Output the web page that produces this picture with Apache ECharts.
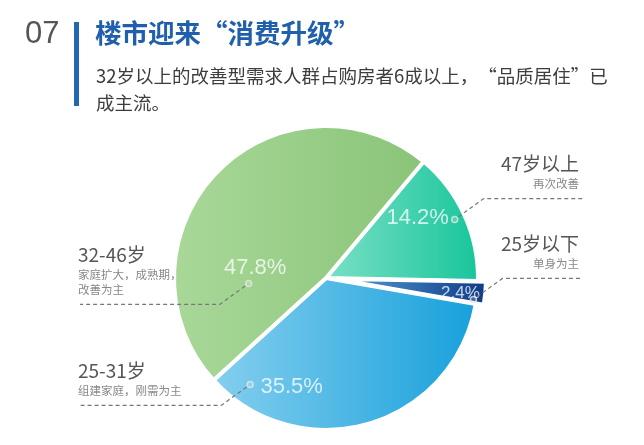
<!DOCTYPE html>
<html><head><meta charset="utf-8">
<script src="https://cdn.jsdelivr.net/npm/echarts@6/dist/echarts.min.js"></script>
<style>html,body{margin:0;padding:0;background:#fff}#c{width:644px;height:445px}</style>
</head><body><div id="c"></div>
<script>
// ---- data ----
const categories = ['47岁以上', '25岁以下', '25-31岁', '32-46岁'];
const descriptions = ['再次改善', '单身为主', '组建家庭，刚需为主', '家庭扩大，成熟期，\n改善为主'];
const values = [14.2, 2.4, 35.5, 47.8];
const titleNumber = '07';
const titleText = '楼市迎来“消费升级”';
const subtitleText = '32岁以上的改善型需求人群占购房者6成以上，“品质居住”已\n成主流。';

// ---- style ----
const gradients = [['#7be0c6', '#17c59b'], ['#5da3de', '#0b3a85'], ['#85cfee', '#17a0db'], ['#a9d899', '#89c478']];
const markerPos = [[0.93, 0.5], [0.98, 0.82], [0.86, 0.904], [0.51, 0.222]]; // [radius frac, frac along slice]
const pctPos = [[0.72, 0.33], [0.89, 0.6], [0.75, 0.764], [0.47, 0.29]];
const pctSize = [22, 17, 22, 22];
const side = [1, 1, -1, -1];
const CENTER = [326, 278], R = 152, START = 50;

const total = values.reduce((a, b) => a + b, 0);
const starts = []; let acc = 0; values.forEach(v => { starts.push(acc); acc += v; });
const markerData = values.map((v, i) => [markerPos[i][0], starts[i] + markerPos[i][1] * v]);
const pctData = values.map((v, i) => ({ value: [pctPos[i][0], starts[i] + pctPos[i][1] * v], label: { fontSize: pctSize[i] } }));

const chart = echarts.init(document.getElementById('c'));
const option = {
  animation: false,
  backgroundColor: '#fff',
  title: [
    { text: titleNumber, left: 20, top: 14, textStyle: { fontSize: 31, fontWeight: 'normal', color: '#555', fontFamily: 'Liberation Sans' } },
    { text: titleText, left: 90, top: 15, textStyle: { fontSize: 26.5, fontWeight: 'bold', color: '#1f5fab', fontFamily: 'Noto Sans CJK SC' } },
    { text: subtitleText, left: 91, top: 57, textStyle: { fontSize: 18.5, fontWeight: 'normal', color: '#3d3d3d', lineHeight: 27, fontFamily: 'Noto Sans CJK SC' } }
  ],
  polar: { center: CENTER, radius: R },
  angleAxis: { type: 'value', min: 0, max: total, startAngle: START, clockwise: true, show: false },
  radiusAxis: { type: 'value', min: 0, max: 1, show: false },
  series: [
    {
      type: 'pie', center: CENTER, radius: R, startAngle: START, clockwise: true,
      selectedMode: 'single', selectedOffset: 8,
      label: { show: false }, labelLine: { show: false }, emphasis: { disabled: true },
      itemStyle: { borderColor: '#fff', borderWidth: 4 },
      data: values.map((v, i) => ({
        name: categories[i], value: v, selected: i === 1,
        itemStyle: { color: new echarts.graphic.LinearGradient(0, 0, 1, 0, [{ offset: 0, color: gradients[i][0] }, { offset: 1, color: gradients[i][1] }]) }
      }))
    },
    {
      type: 'scatter', coordinateSystem: 'polar', symbol: 'circle', symbolSize: 6, silent: true, z: 5,
      itemStyle: { color: 'rgba(255,255,255,0.25)', borderColor: '#e6e6e6', borderWidth: 1.5 },
      data: markerData
    },
    {
      type: 'scatter', coordinateSystem: 'polar', symbolSize: 0, silent: true, z: 6,
      label: { show: true, position: 'inside', formatter: p => values[p.dataIndex].toFixed(1) + '%', color: 'rgba(255,255,255,0.95)', fontFamily: 'Liberation Sans' },
      data: pctData
    }
  ]
};
chart.setOption(option);

const gfx = [{ type: 'rect', z: 100, shape: { x: 74, y: 22, width: 5, height: 84 }, style: { fill: '#2366b3' } }];
markerData.forEach((d, i) => {
  const p = chart.convertToPixel({ seriesIndex: 1 }, d);
  const s = side[i];
  const st = [p[0] + s * 3.5, p[1] - s * 2.6];
  const bend = [p[0] + s * 29, p[1] - s * 21];
  const endX = s > 0 ? 583 : 80;
  gfx.push({ type: 'polyline', z: 100, silent: true, shape: { points: [st, bend, [endX, bend[1]]] }, style: { stroke: '#777', lineWidth: 1.2, lineDash: [4, 3], fill: null } });
  const descLines = descriptions[i].split('\n').map(t => '{b|' + t + '}').join('\n');
  gfx.push({
    type: 'text', z: 100, silent: true, x: s > 0 ? 579 : 78, y: bend[1] - 7,
    style: {
      text: '{a|' + categories[i] + '}\n' + descLines,
      align: s > 0 ? 'right' : 'left', verticalAlign: 'bottom',
      rich: {
        a: { fontSize: 19, lineHeight: 25, fill: '#555', fontFamily: 'Noto Sans CJK SC', align: s > 0 ? 'right' : 'left' },
        b: { fontSize: 11.5, lineHeight: 15, fill: '#888', fontFamily: 'Noto Sans CJK SC', align: s > 0 ? 'right' : 'left' }
      }
    }
  });
});
chart.setOption({ graphic: gfx });
</script></body></html>
